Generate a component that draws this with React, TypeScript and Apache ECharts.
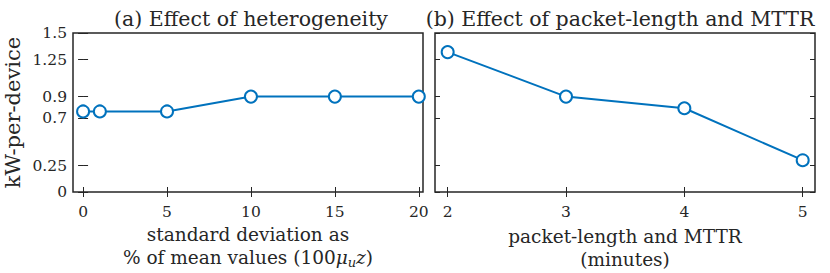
import React, { useEffect, useRef } from "react";
import * as echarts from "echarts";

const heteroX = [0, 1, 5, 10, 15, 20];
const heteroY = [0.76, 0.76, 0.76, 0.9, 0.9, 0.9];
const heteroTicks = [0, 5, 10, 15, 20];

const packetX = [2, 3, 4, 5];
const packetY = [1.32, 0.9, 0.79, 0.3];
const packetTicks = [2, 3, 4, 5];

const yTicks = [0, 0.25, 0.7, 0.9, 1.25, 1.5];

const titleA = "(a) Effect of heterogeneity";
const titleB = "(b) Effect of packet-length and MTTR";
const yName = "kW-per-device";

const FONT = "DejaVu Serif";
const AX = "#262626";
const BLUE = "#0072BD";

export default function App() {
  const ref = useRef<HTMLDivElement>(null);
  useEffect(() => {
    const chart = echarts.init(ref.current!, null, { renderer: "svg" });
    const tickStyle = { show: true, inside: true, length: 5, lineStyle: { color: AX, width: 1 } };
    const xAxisBase = (gridIndex: number, min: number, max: number, ticks: number[], pos: string, labels: boolean) => ({
      type: "value",
      gridIndex,
      min,
      max,
      position: pos,
      splitLine: { show: false },
      axisLine: { show: false },
      axisTick: { ...tickStyle, customValues: ticks },
      axisLabel: {
        show: labels,
        customValues: ticks,
        color: AX,
        fontFamily: FONT,
        fontSize: 15.5,
        margin: 12,
      },
    });
    const yAxisBase = (gridIndex: number, pos: string, labels: boolean) => ({
      type: "value",
      gridIndex,
      min: 0,
      max: 1.5,
      position: pos,
      splitLine: { show: false },
      axisLine: { show: false },
      axisTick: { ...tickStyle, customValues: yTicks },
      axisLabel: {
        show: labels,
        customValues: yTicks,
        color: AX,
        fontFamily: FONT,
        fontSize: 15.5,
        margin: 6,
      },
    });
    const seriesBase = {
      type: "line",
      symbol: "emptyCircle",
      symbolSize: 12,
      lineStyle: { color: BLUE, width: 2 },
      itemStyle: { color: BLUE, borderColor: BLUE, borderWidth: 2.2 },
    };
    chart.setOption({
      animation: false,
      title: [
        {
          text: titleA,
          left: 246,
          top: 3,
          textAlign: "center",
          textStyle: { fontFamily: FONT, fontSize: 20.5, fontWeight: "normal", color: AX },
        },
        {
          text: titleB,
          left: 615,
          top: 3,
          textAlign: "center",
          textStyle: { fontFamily: FONT, fontSize: 20.5, fontWeight: "normal", color: AX },
        },
      ],
      grid: [
        { left: 73, top: 33, width: 350, height: 159, show: true, borderColor: AX, borderWidth: 1.5, containLabel: false, outerBoundsMode: "none" },
        { left: 435, top: 33, width: 380, height: 159, show: true, borderColor: AX, borderWidth: 1.5, containLabel: false, outerBoundsMode: "none" },
      ],
      xAxis: [
        {
          ...xAxisBase(0, -0.6, 20.25, heteroTicks, "bottom", true),
          name: "{a|standard deviation as}\n{a|% of mean values (100}{i|μ}{s|u}{i|z}{a|)}",
          nameLocation: "middle",
          nameGap: 27,
          nameTextStyle: {
            rich: {
              a: { fontFamily: FONT, fontSize: 18.5, color: AX, lineHeight: 23 },
              i: { fontFamily: FONT, fontSize: 18.5, color: AX, fontStyle: "italic", lineHeight: 23 },
              s: { fontFamily: FONT, fontSize: 13, color: AX, fontStyle: "italic", verticalAlign: "bottom", lineHeight: 19 },
            },
          },
        },
        xAxisBase(0, -0.6, 20.25, heteroTicks, "top", false),
        {
          ...xAxisBase(1, 1.893, 5.104, packetTicks, "bottom", true),
          name: "packet-length and MTTR\n(minutes)",
          nameLocation: "middle",
          nameGap: 27,
          nameTextStyle: { fontFamily: FONT, fontSize: 18.5, color: AX, lineHeight: 23 },
        },
        xAxisBase(1, 1.893, 5.104, packetTicks, "top", false),
      ],
      yAxis: [
        {
          ...yAxisBase(0, "left", true),
          name: yName,
          nameLocation: "middle",
          nameGap: 50,
          nameTextStyle: { fontFamily: FONT, fontSize: 21, color: AX },
        },
        yAxisBase(0, "right", false),
        yAxisBase(1, "left", false),
        yAxisBase(1, "right", false),
      ],
      series: [
        {
          ...seriesBase,
          xAxisIndex: 0,
          yAxisIndex: 0,
          data: heteroX.map((x, i) => [x, heteroY[i]]),
        },
        {
          ...seriesBase,
          xAxisIndex: 2,
          yAxisIndex: 2,
          data: packetX.map((x, i) => [x, packetY[i]]),
        },
      ],
    });
    return () => chart.dispose();
  }, []);
  return <div ref={ref} style={{ width: 830, height: 273, position: "absolute", left: 0, top: 0, background: "#fff" }} />;
}
